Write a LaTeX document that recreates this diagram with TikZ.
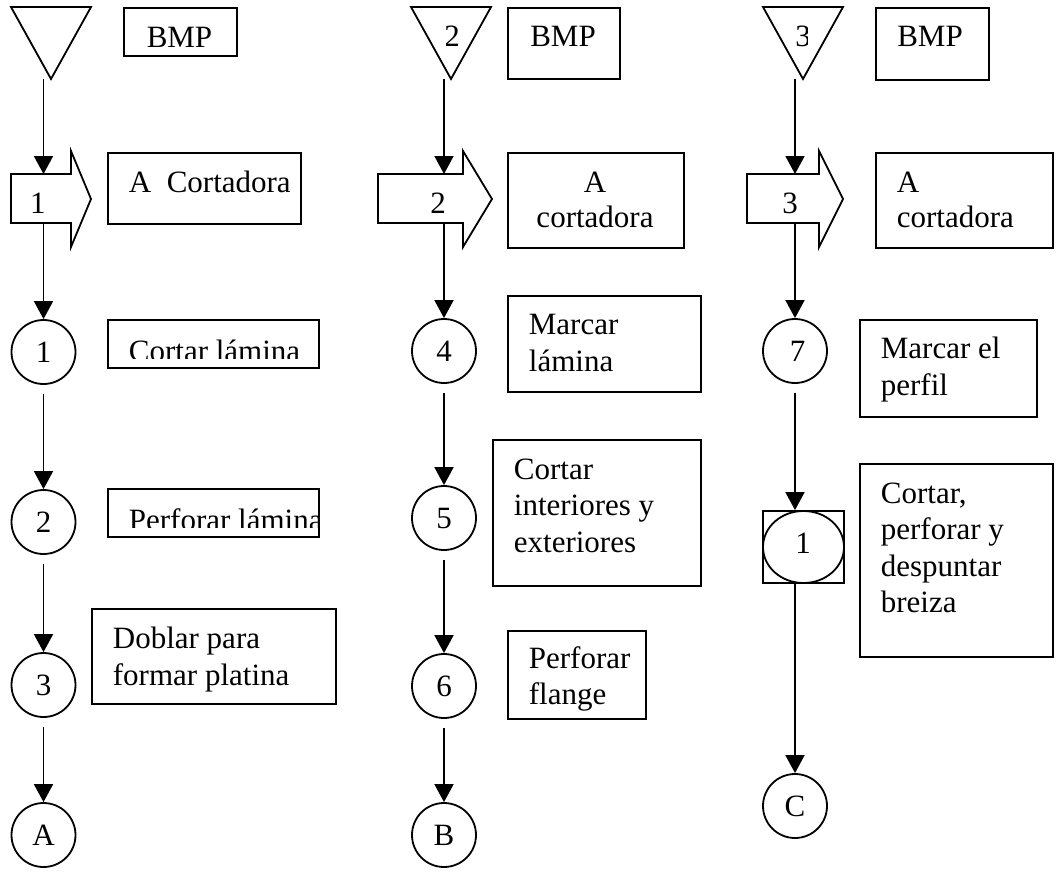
\documentclass[tikz,border=0pt]{standalone}
\usepackage{fontspec}
\setmainfont{Liberation Serif}
\usetikzlibrary{arrows.meta}

\begin{document}
\begin{tikzpicture}[x=1pt,y=-1pt,line width=1.8pt,
  every node/.style={font=\fontsize{31}{36.5}\selectfont,inner sep=0pt},
  proc/.style={draw,rectangle,anchor=north west},
  op/.style={draw,circle,minimum size=64pt},
  flow/.style={-{Triangle[length=18pt,width=19pt]}},
  gap/.style={shorten <=9pt},
  ln/.style={anchor=base west},
  mid/.style={anchor=base},
]
\useasboundingbox (0,0) rectangle (1058,873);

% ---------------- column 1 ----------------
\draw (11,7) -- (91,7) -- (51,79) -- cycle;
\coordinate (t1) at (43.5,79);
\node[proc,minimum width=113pt,minimum height=48pt] (bmp1) at (123,7) {};
\begin{scope}
  \clip (123,7) rectangle (236,46.5);
  \node[mid] (bmp1t) at (179.5,47.5) {BMP};
\end{scope}

\draw (11,174) -- (71,174) -- (71,151) -- (91,199) -- (71,247) -- (71,223) -- (11,223) -- cycle;
\node[mid] (a1t) at (38,213) {1};
\coordinate (a1in) at (43.5,174);
\coordinate (a1out) at (43.5,223);
\node[proc,minimum width=193pt,minimum height=71pt] (ac1) at (107,152) {};
\node[ln] (ac1t) at (128,192) {A\ \ Cortadora};

\node[op] (c1) at (43.5,352) {1};
\node[proc,minimum width=211pt,minimum height=48pt] (p1) at (107,319) {};
\begin{scope}
  \clip (107,319) rectangle (318,358);
  \node[ln] (p1t) at (128,361) {Cortar lámina};
\end{scope}

\node[op] (c2) at (43.5,522) {2};
\node[proc,minimum width=211pt,minimum height=48pt] (p2) at (107,488) {};
\begin{scope}
  \clip (107,488) rectangle (318,527);
  \node[ln] (p2t) at (128,530) {Perforar lámina};
\end{scope}

\node[op] (c3) at (43.5,685) {3};
\node[proc,minimum width=244pt,minimum height=95pt] (p3) at (91,608) {};
\node[ln] (p3a) at (112,648) {Doblar para};
\node[ln] (p3b) at (112,685) {formar platina};

\node[op] (cA) at (43.5,835) {A};

\draw[flow] (t1) -- (a1in);
\draw[flow] (a1out) -- (c1);
\draw[flow,gap] (c1) -- (c2);
\draw[flow,gap] (c2) -- (c3);
\draw[flow,gap] (c3) -- (cA);

% ---------------- column 2 ----------------
\draw (411,7) -- (491,7) -- (451,79) -- cycle;
\begin{scope}
  \clip (446,12) rectangle (470,60);
  \node[mid] (t2t) at (452,46) {2};
\end{scope}
\coordinate (t2) at (444,79);
\node[proc,minimum width=112pt,minimum height=71pt] (bmp2) at (507,7) {};
\node[mid] (bmp2t) at (563,46) {BMP};

\draw (378,174) -- (463,174) -- (463,151) -- (492,199) -- (463,247) -- (463,223) -- (378,223) -- cycle;
\node[mid] (a2t) at (438,213) {2};
\coordinate (a2in) at (444,174);
\coordinate (a2out) at (444,223);
\node[proc,minimum width=176pt,minimum height=95pt] (ac2) at (507,152) {};
\node[mid] (ac2a) at (595,192) {A};
\node[mid] (ac2b) at (595,227) {cortadora};

\node[op] (c4) at (444,351) {4};
\node[proc,minimum width=193pt,minimum height=96pt] (p4) at (507,295) {};
\node[ln] (p4a) at (528,334) {Marcar};
\node[ln] (p4b) at (528,371) {lámina};

\node[op] (c5) at (444,518) {5};
\node[proc,minimum width=208pt,minimum height=146pt] (p5) at (492,439) {};
\node[ln] (p5a) at (513,479) {Cortar};
\node[ln] (p5b) at (513,515) {interiores y};
\node[ln] (p5c) at (513,552) {exteriores};

\node[op] (c6) at (444,686) {6};
\node[proc,minimum width=138pt,minimum height=88pt] (p6) at (507,630) {};
\node[ln] (p6a) at (528,668) {Perforar};
\node[ln] (p6b) at (528,704) {flange};

\node[op] (cB) at (444,835) {B};

\draw[flow] (t2) -- (a2in);
\draw[flow] (a2out) -- (c4);
\draw[flow,gap] (c4) -- (c5);
\draw[flow,gap] (c5) -- (c6);
\draw[flow,gap] (c6) -- (cB);

% ---------------- column 3 ----------------
\draw (763,7) -- (843,7) -- (803,79) -- cycle;
\begin{scope}
  \clip (780,12) rectangle (807,60);
  \node[mid] (t3t) at (803,46) {3};
\end{scope}
\coordinate (t3) at (795,79);
\node[proc,minimum width=113pt,minimum height=72pt] (bmp3) at (875,7) {};
\node[mid] (bmp3t) at (930,46) {BMP};

\draw (747,174) -- (819,174) -- (819,151) -- (843,199) -- (819,247) -- (819,223) -- (747,223) -- cycle;
\node[mid] (a3t) at (790,213) {3};
\coordinate (a3in) at (795,174);
\coordinate (a3out) at (795,223);
\node[proc,minimum width=177pt,minimum height=95pt] (ac3) at (875,152) {};
\node[ln] (ac3a) at (896,192) {A};
\node[ln] (ac3b) at (896,227) {cortadora};

\node[op] (c7) at (795,351) {\hspace{5pt}7};
\node[proc,minimum width=177pt,minimum height=97pt] (p7) at (859,319) {};
\node[ln] (p7a) at (880,358) {Marcar el};
\node[ln] (p7b) at (880,395) {perfil};

\node[draw,rectangle,minimum width=81pt,minimum height=72pt] (sq) at (803.5,547) {};
\draw (sq.center) ellipse [x radius=40.5pt,y radius=36pt];
\node (sqt) at (803,543) {1};
\node[proc,minimum width=193pt,minimum height=193pt] (p8) at (859,463) {};
\node[ln] (p8a) at (880,503) {Cortar,};
\node[ln] (p8b) at (880,539.5) {perforar y};
\node[ln] (p8c) at (880,576) {despuntar};
\node[ln] (p8d) at (880,612.5) {breiza};

\node[op] (cC) at (795,806) {C};

\draw[flow] (t3) -- (a3in);
\draw[flow] (a3out) -- (c7);
\draw[flow,gap] (c7) -- (c7 |- sq.north);
\draw[flow] (sq.south -| c7) -- (cC);
\end{tikzpicture}
\end{document}
